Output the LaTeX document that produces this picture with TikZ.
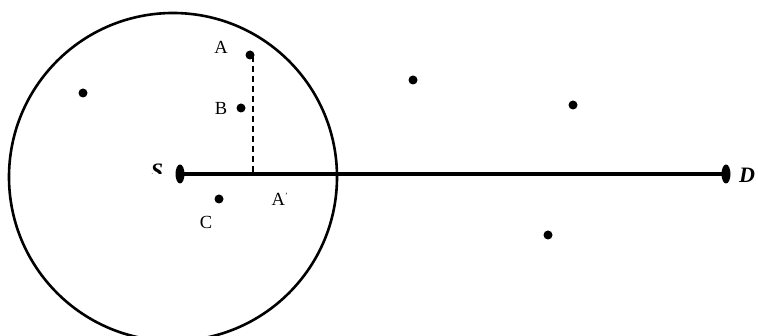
\documentclass[tikz,border=0pt]{standalone}
\usepackage{fontspec}
\setmainfont{Liberation Serif}
\usetikzlibrary{shapes.geometric}
\begin{document}
\begin{tikzpicture}[x=1pt,y=-1pt,
  dot/.style={circle,fill=black,inner sep=0pt,minimum size=9pt},
  endpt/.style={ellipse,fill=black,inner sep=0pt,minimum width=9pt,minimum height=19pt},
  lbl/.style={inner sep=0pt,font=\fontsize{18.5}{20}\selectfont},
  biglbl/.style={inner sep=0pt,font=\fontsize{22}{24}\selectfont\bfseries\itshape}]
\useasboundingbox (0,0) rectangle (758,336);
\begin{scope}
\clip (0,0) rectangle (758,336);
\draw[line width=2.6pt] (173,177) circle (164);
\end{scope}
% endpoints
\node[endpt] (S) at (180,174) {};
\node[endpt] (D) at (726,174) {};
\draw[line width=3.2pt] (S.center) -- (D.center);
% points
\node[dot] (A) at (250,55) {};
\node[dot] (B) at (241,108) {};
\node[dot] (C) at (219,199) {};
\node[dot] (P1) at (83,93) {};
\node[dot] (P2) at (413,80) {};
\node[dot] (P3) at (573,105) {};
\node[dot] (P4) at (548,235) {};
\coordinate (Ap) at (253,174);
\coordinate (Atop) at (253,56);
\draw[line width=1.6pt,dash pattern=on 6pt off 4pt] (Atop) -- (Ap);
% labels
\node[lbl] (lA) at (221,47) {A};
\node[lbl] (lB) at (221,108) {B};
\node[lbl] (lC) at (206,222) {C};
\node[lbl] (lAp) at (280,199) {A\textsuperscript{\fontsize{8}{9}\selectfont'}};
\begin{scope}
\clip (140,155) rectangle (175,174);
\node[biglbl] (lS) at (157,171) {S};
\end{scope}
\node[biglbl,anchor=west] (lD) at (739,175) {D};
\end{tikzpicture}
\end{document}
